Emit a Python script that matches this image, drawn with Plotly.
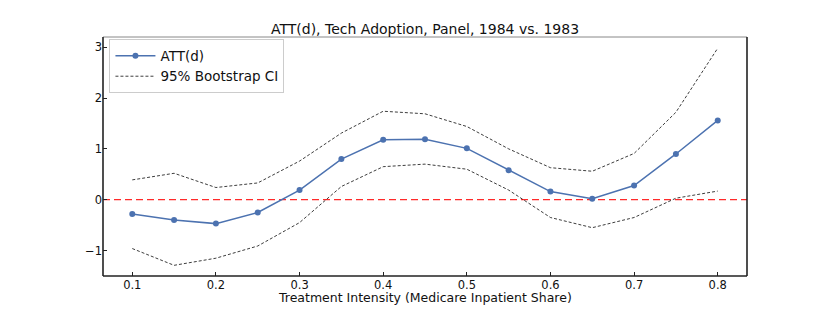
import plotly.graph_objects as go

d = [0.1, 0.15, 0.2, 0.25, 0.3, 0.35, 0.4, 0.45, 0.5, 0.55, 0.6, 0.65, 0.7, 0.75, 0.8]
att = [-0.28, -0.40, -0.47, -0.25, 0.19, 0.80, 1.18, 1.19, 1.01, 0.58, 0.16, 0.02, 0.28, 0.90, 1.56]
ci_upper = [0.39, 0.52, 0.24, 0.33, 0.76, 1.31, 1.74, 1.69, 1.44, 1.00, 0.63, 0.56, 0.91, 1.72, 2.98]
ci_lower = [-0.96, -1.29, -1.15, -0.91, -0.45, 0.26, 0.65, 0.70, 0.60, 0.19, -0.35, -0.55, -0.35, 0.03, 0.17]
x_ticks = [0.1, 0.2, 0.3, 0.4, 0.5, 0.6, 0.7, 0.8]
y_ticks = [-1, 0, 1, 2, 3]

FONT = "DejaVu Sans, Arial, sans-serif"
BLUE = "#4c72b0"

fig = go.Figure()
fig.add_trace(go.Scatter(x=d, y=ci_upper, mode="lines", name="95% Bootstrap CI",
                         line=dict(color="rgba(0,0,0,0.85)", width=0.9, dash="3px,2px"),
                         showlegend=True, legendrank=2))
fig.add_trace(go.Scatter(x=d, y=ci_lower, mode="lines", name="95% Bootstrap CI",
                         line=dict(color="rgba(0,0,0,0.85)", width=0.9, dash="3px,2px"),
                         showlegend=False))
fig.add_trace(go.Scatter(x=d, y=att, mode="lines+markers", name="ATT(d)",
                         line=dict(color=BLUE, width=1.5),
                         marker=dict(color=BLUE, size=6),
                         legendrank=1))

fig.add_hline(y=0, line=dict(color="#ff2a2a", width=1.3, dash="7px,4px"), layer="below")

shapes = [
    dict(type="line", xref="paper", yref="paper", x0=0, x1=1, y0=1, y1=1, line=dict(color="#888888", width=1)),
    dict(type="line", xref="paper", yref="paper", x0=0, x1=0, y0=0, y1=1, line=dict(color="#222222", width=1.6)),
    dict(type="line", xref="paper", yref="paper", x0=1, x1=1, y0=0, y1=1, line=dict(color="#222222", width=1.6)),
    dict(type="line", xref="paper", yref="paper", x0=0, x1=1, y0=0, y1=0, line=dict(color="#222222", width=1.6)),
]
for s in shapes:
    fig.add_shape(**s)

fig.add_annotation(text="Treatment Intensity (Medicare Inpatient Share)", xref="paper", yref="paper",
                   x=0.5, y=0, xanchor="center", yanchor="middle", yshift=-21, showarrow=False,
                   font=dict(family=FONT, size=12.5, color="#111111"))

fig.update_layout(
    width=822, height=302,
    margin=dict(l=95, r=83, t=29, b=34),
    paper_bgcolor="white", plot_bgcolor="white",
    font=dict(family=FONT, size=11.5, color="#111111"),
    title=dict(text="ATT(d), Tech Adoption, Panel, 1984 vs. 1983", x=0.5, xref="paper",
               y=1, yref="paper", yanchor="bottom", pad=dict(b=3),
               font=dict(family=FONT, size=14, color="#111111")),
    showlegend=True,
    legend=dict(x=0.01, y=0.99, xanchor="left", yanchor="top",
                bgcolor="rgba(255,255,255,0.8)", bordercolor="#cccccc", borderwidth=1,
                font=dict(family=FONT, size=13.5), tracegroupgap=0,
                itemwidth=40),
    xaxis=dict(range=[0.065, 0.835], tickvals=x_ticks, ticktext=[str(v) for v in x_ticks],
               ticks="inside", ticklen=4, tickcolor="#222222", showgrid=False, zeroline=False,
               showline=False, automargin=False),
    yaxis=dict(range=[-1.5, 3.2], tickvals=y_ticks, ticks="inside", ticklen=4,
               tickcolor="#222222", showgrid=False, zeroline=False, showline=False,
               automargin=False),
)

fig.write_html("out.html")
